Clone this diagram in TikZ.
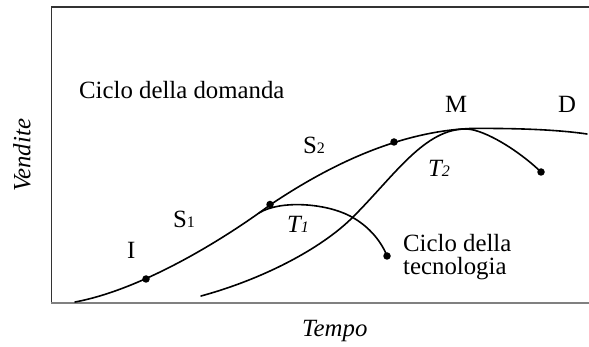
\documentclass[tikz,border=0pt]{standalone}
\usepackage{fontspec}
\setmainfont{Liberation Serif}
\begin{document}
\begin{tikzpicture}[x=1pt,y=-1pt,
  lbl/.style={inner sep=0pt,anchor=base west,font=\fontsize{24.8}{26}\selectfont},
  curve/.style={line width=1.6pt,line join=round,line cap=round},
  dotp/.style={circle,fill=black,inner sep=0pt,minimum size=7.5pt}]
\useasboundingbox (0,0) rectangle (589,347);
% frame
\draw[line width=1.4pt,black!80] (589,7) -- (51.3,7) -- (51.3,303);
\draw[line width=1.6pt,black!50] (51.3,303) -- (589,303);
% demand curve
\draw[curve] (75,302) .. controls (140,290) and (220,242) .. (270,205)
  .. controls (325,168) and (395,132) .. (470,128.5)
  .. controls (520,128) and (560,130) .. (587,134);
% technology cycle T1
\draw[curve] (259,213) .. controls (280,200) and (325,203) .. (350,216)
  .. controls (370,226.4) and (382,243) .. (387,256);
% technology cycle T2
\draw[curve] (201,296) .. controls (260,280) and (320,250) .. (353,217)
  .. controls (395,175) and (425,128) .. (467,129)
  .. controls (485,130) and (518,150) .. (541,172);
% dots
\node[dotp] (dI) at (146,279) {};
\node[dotp] (dS1) at (270,204.5) {};
\node[dotp] (dS2) at (394,142) {};
\node[dotp] (dT1) at (387,256) {};
\node[dotp] (dT2) at (541,172) {};
% labels
\node[lbl] (dom) at (79,99) {Ciclo della domanda};
\node[lbl,anchor=center,rotate=90] (vend) at (22,155.5) {\itshape Vendite};
\node[lbl] (tempo) at (302,337) {\itshape Tempo};
\node[lbl] (M) at (445,113) {M};
\node[lbl] (D) at (558,113) {D};
\node[lbl] (S2) at (303,154) {S{\fontsize{16}{16}\selectfont 2}};
\node[lbl] (S1) at (173,228) {S{\fontsize{16}{16}\selectfont 1}};
\node[lbl] (I) at (127,259) {I};
\node[lbl] (T1) at (287,233) {\itshape T{\fontsize{16}{16}\selectfont 1}};
\node[lbl] (T2) at (428,177) {\itshape T{\fontsize{16}{16}\selectfont 2}};
\node[lbl] (tec1) at (403,252) {Ciclo della};
\node[lbl] (tec2) at (403,275) {tecnologia};
\end{tikzpicture}
\end{document}
